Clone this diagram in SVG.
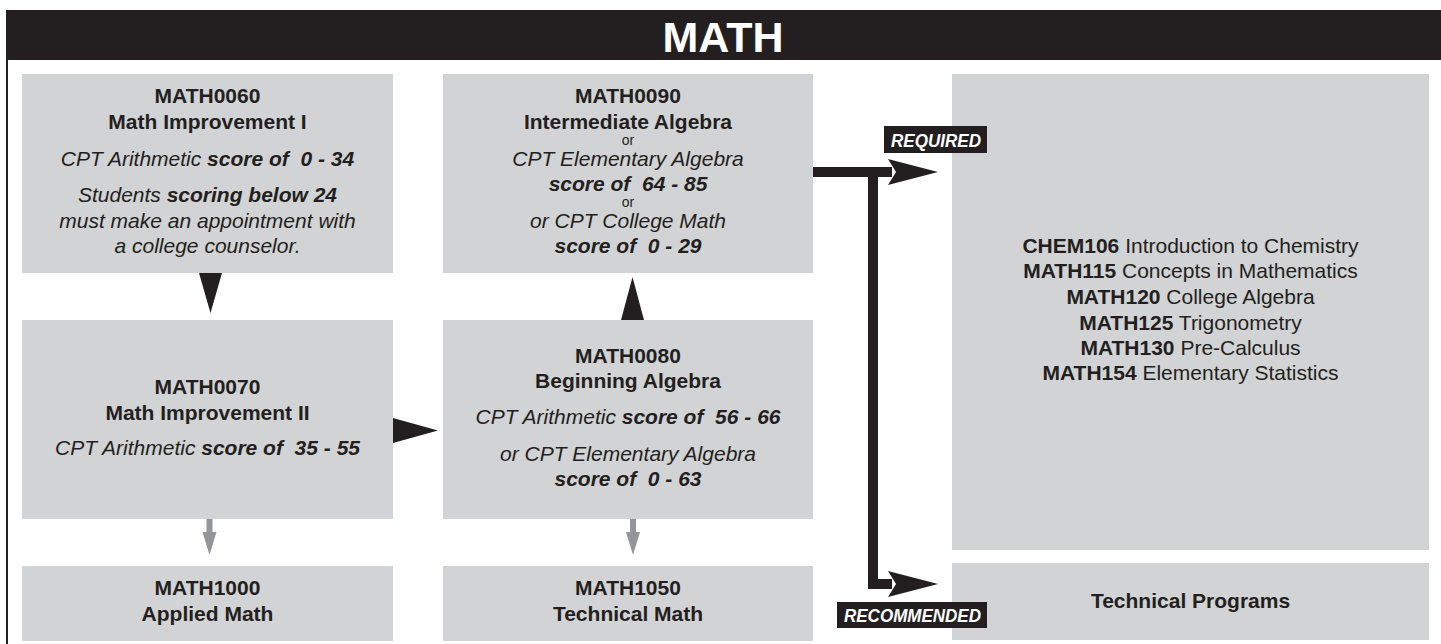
<svg xmlns="http://www.w3.org/2000/svg" width="1441" height="644" viewBox="0 0 1441 644">
  <defs>
    <style>
      .box { fill: #d1d3d4; }
      .t { font-family: "Liberation Sans", Arial, sans-serif; font-size: 21px; fill: #231f20; text-anchor: middle; }
      .b { font-weight: bold; }
      .i { font-style: italic; }
      .or { font-size: 14px; }
      .lbl { font-family: "Liberation Sans", Arial, sans-serif; font-size: 19px; font-weight: bold; font-style: italic; fill: #ffffff; }
      .blk { fill: #231f20; }
      .gray { fill: #939598; }
    </style>
  </defs>

  <rect width="1441" height="644" fill="#ffffff"/>

  <!-- frame and title bar -->
  <g id="header">
    <rect x="6" y="10" width="1435" height="50" class="blk"/>
    <rect x="6" y="60" width="2" height="584" class="blk"/>
    <text x="723" y="52" font-family="'Liberation Sans', Arial, sans-serif" font-size="43" font-weight="bold" fill="#ffffff" text-anchor="middle">MATH</text>
  </g>

  <!-- connectors -->
  <g id="connectors">
    <polygon points="199,273 222,273 210.5,313" class="blk"/>
    <polygon points="621,320 644,320 632.5,277" class="blk"/>
    <polygon points="393,418 393,443 438,430.5" class="blk"/>
    <polygon points="206.5,519 212.5,519 212.5,532 216.5,532 209.5,555 202.5,532 206.5,532" class="gray"/>
    <polygon points="630,519 636,519 636,532 640,532 633,555 626,532 630,532" class="gray"/>
    <!-- required / recommended trunk -->
    <rect x="809" y="167" width="83" height="10" class="blk"/>
    <rect x="868" y="167" width="10" height="422" class="blk"/>
    <rect x="868" y="579" width="24" height="10" class="blk"/>
    <polygon points="888,159 938,172 888,185 896,172" class="blk"/>
    <polygon points="888,571 938,584 888,597 896,584" class="blk"/>
  </g>

  <!-- nodes -->
  <g id="math0060">
    <rect x="22" y="74" width="371" height="199" class="box"/>
    <text class="t b" x="207.5" y="103">MATH0060</text>
    <text class="t b" x="207.5" y="129">Math Improvement I</text>
    <text class="t i" x="207.5" y="166" xml:space="preserve">CPT Arithmetic <tspan class="b">score of  0 - 34</tspan></text>
    <text class="t i" x="207.5" y="202">Students <tspan class="b">scoring below 24</tspan></text>
    <text class="t i" x="207.5" y="228">must make an appointment with</text>
    <text class="t i" x="207.5" y="253">a college counselor.</text>
  </g>

  <g id="math0090">
    <rect x="443" y="74" width="370" height="199" class="box"/>
    <text class="t b" x="628" y="103">MATH0090</text>
    <text class="t b" x="628" y="129">Intermediate Algebra</text>
    <text class="t or" x="628" y="145">or</text>
    <text class="t i" x="628" y="166">CPT Elementary Algebra</text>
    <text class="t i b" x="628" y="191" xml:space="preserve">score of  64 - 85</text>
    <text class="t or" x="628" y="207">or</text>
    <text class="t i" x="628" y="228">or CPT College Math</text>
    <text class="t i b" x="628" y="253" xml:space="preserve">score of  0 - 29</text>
  </g>

  <g id="math0070">
    <rect x="22" y="320" width="371" height="199" class="box"/>
    <text class="t b" x="207.5" y="394">MATH0070</text>
    <text class="t b" x="207.5" y="420">Math Improvement II</text>
    <text class="t i" x="207.5" y="455" xml:space="preserve">CPT Arithmetic <tspan class="b">score of  35 - 55</tspan></text>
  </g>

  <g id="math0080">
    <rect x="443" y="320" width="370" height="199" class="box"/>
    <text class="t b" x="628" y="363">MATH0080</text>
    <text class="t b" x="628" y="388">Beginning Algebra</text>
    <text class="t i" x="628" y="424" xml:space="preserve">CPT Arithmetic <tspan class="b">score of  56 - 66</tspan></text>
    <text class="t i" x="628" y="461">or CPT Elementary Algebra</text>
    <text class="t i b" x="628" y="486" xml:space="preserve">score of  0 - 63</text>
  </g>

  <g id="math1000">
    <rect x="22" y="566" width="371" height="75" class="box"/>
    <text class="t b" x="207.5" y="595">MATH1000</text>
    <text class="t b" x="207.5" y="621">Applied Math</text>
  </g>

  <g id="math1050">
    <rect x="443" y="566" width="370" height="75" class="box"/>
    <text class="t b" x="628" y="595">MATH1050</text>
    <text class="t b" x="628" y="621">Technical Math</text>
  </g>

  <g id="college-courses">
    <rect x="952" y="74" width="477" height="476" class="box"/>
    <text class="t" x="1190.5" y="253"><tspan class="b">CHEM106</tspan> Introduction to Chemistry</text>
    <text class="t" x="1190.5" y="278"><tspan class="b">MATH115</tspan> Concepts in Mathematics</text>
    <text class="t" x="1190.5" y="304"><tspan class="b">MATH120</tspan> College Algebra</text>
    <text class="t" x="1190.5" y="330"><tspan class="b">MATH125</tspan> Trigonometry</text>
    <text class="t" x="1190.5" y="355"><tspan class="b">MATH130</tspan> Pre-Calculus</text>
    <text class="t" x="1190.5" y="380"><tspan class="b">MATH154</tspan> Elementary Statistics</text>
  </g>

  <g id="technical-programs">
    <rect x="952" y="563" width="477" height="77" class="box"/>
    <text class="t b" x="1190.5" y="608">Technical Programs</text>
  </g>

  <!-- path labels -->
  <g id="labels">
    <rect x="884" y="126" width="103" height="27" class="blk"/>
    <text class="lbl" x="891" y="147" textLength="90" lengthAdjust="spacingAndGlyphs">REQUIRED</text>
    <rect x="837" y="602" width="150" height="26" class="blk"/>
    <text class="lbl" x="844" y="622" textLength="137" lengthAdjust="spacingAndGlyphs">RECOMMENDED</text>
  </g>
</svg>
